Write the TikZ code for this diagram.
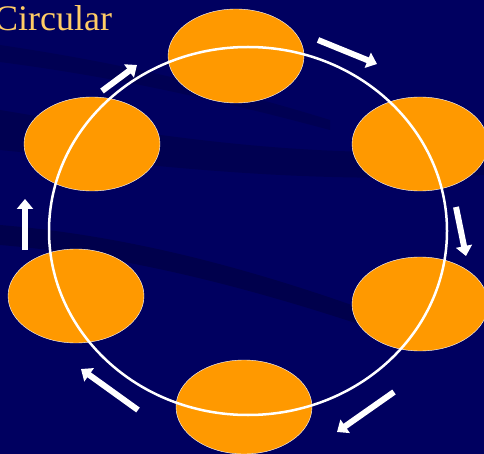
\documentclass[tikz,border=0pt]{standalone}
\usepackage{fontspec}
\setmainfont{Liberation Serif}
\usepackage{xcolor}
\usepackage{tikz}
\usetikzlibrary{arrows.meta, positioning, shapes.geometric}
\definecolor{navybg}{HTML}{000060}
\definecolor{darkstreak}{HTML}{000020}
\definecolor{mainorange}{HTML}{FF9900}
\definecolor{titleyellow}{HTML}{FFCC66}
\tikzset{
    stagebox/.style={
        ellipse,
        draw=white,
        fill=mainorange,
        thin,
        inner sep=0pt,
        minimum width=136pt,
        minimum height=94pt
    },
    ring/.style={
        draw=white,
        line width=2.5pt
    },
    flow/.style={
        -{Triangle[length=10pt,width=16pt]},
        line width=6pt,
        draw=white
    }
}

\begin{document}
\begin{tikzpicture}[x=1pt, y=-1pt]
    % background
    \fill[navybg] (0,0) rectangle (484,454);
    \useasboundingbox (0,0) rectangle (484,454);
    \fill[darkstreak, opacity=0.22] (0,110) .. controls (150,135) and (300,160) .. (484,150)
        -- (484,175) .. controls (300,185) and (150,165) .. (0,150) -- cycle;
    \fill[darkstreak, opacity=0.3] (0,225) .. controls (120,235) and (250,265) .. (420,330)
        -- (420,345) .. controls (250,285) and (120,255) .. (0,245) -- cycle;
    \fill[darkstreak, opacity=0.2] (0,45) .. controls (100,60) and (200,80) .. (330,120)
        -- (330,130) .. controls (200,95) and (100,75) .. (0,62) -- cycle;

    \node[anchor=base west, text=titleyellow, font=\fontsize{36}{38}\selectfont, inner sep=0pt] (title) at (-6,31) {Circular};

    % stages
    \node[stagebox] (s1) at (236,56) {};
    \node[stagebox] (s2) at (420,144) {};
    \node[stagebox] (s3) at (420,304) {};
    \node[stagebox] (s4) at (244,407) {};
    \node[stagebox] (s5) at (76,296) {};
    \node[stagebox] (s6) at (92,144) {};

    \draw[ring] (248,231) ellipse (199 and 184);

    % arrows
    \coordinate (a1) at (318,40);  \coordinate (b1) at (377,64);
    \coordinate (a2) at (456,207); \coordinate (b2) at (466,256);
    \coordinate (a3) at (394,392); \coordinate (b3) at (337,432);
    \coordinate (a4) at (138,410); \coordinate (b4) at (81,369);
    \coordinate (a5) at (25,250);  \coordinate (b5) at (25,199);
    \coordinate (a6) at (102,91);  \coordinate (b6) at (137,65);
    \foreach \i in {1,...,6}
        \draw[flow] (a\i) -- (b\i);
\end{tikzpicture}
\end{document}
